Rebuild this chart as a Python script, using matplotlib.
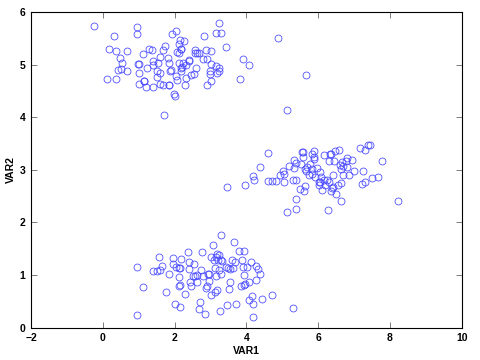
import numpy as np
import matplotlib
matplotlib.use("Agg")
from matplotlib import pyplot as plt

# upper-left group
top_x = [-0.24, 0.17, 0.31, 0.38, 0.48, 0.54, 0.67, 0.41, 0.51, 0.67, 0.11, 0.37,
         0.95, 0.95, 1.11, 0.98, 1.02, 1.01, 1.02, 1.15, 1.16, 1.19, 1.24, 1.30,
         1.36, 1.40, 1.41, 1.40, 1.50, 1.50, 1.54, 1.60, 1.60, 1.60, 1.68, 1.72,
         1.69, 1.82, 1.84, 1.84, 1.86, 1.90, 1.92, 2.05, 2.06, 2.11, 2.15, 2.17,
         2.11, 2.11, 2.05, 2.07, 1.97, 2.02, 2.17, 2.19, 2.22, 2.24, 2.25, 2.28,
         2.31, 2.32, 2.40, 2.41, 2.47, 2.56, 2.56, 2.54, 2.60, 2.63, 2.68, 2.79,
         2.81, 2.87, 2.91, 2.89, 2.98, 2.99, 3.02, 3.02, 3.01, 3.15, 3.16, 3.23,
         3.29, 3.18, 3.23, 3.23, 3.43, 3.91, 4.07, 3.81, 4.88, 5.65, 5.14, 1.70,
         2.18, 1.85]
top_y = [5.74, 5.30, 5.55, 5.26, 5.13, 5.03, 5.25, 4.89, 4.91, 4.88, 4.73, 4.73,
         5.72, 5.58, 5.21, 5.01, 5.01, 4.85, 4.63, 4.68, 4.68, 4.58, 4.94, 5.30,
         5.27, 5.06, 5.00, 4.58, 4.88, 4.77, 5.04, 5.14, 4.84, 4.64, 5.28, 5.36,
         4.61, 5.13, 5.03, 4.61, 4.88, 4.90, 5.58, 5.63, 5.24, 5.39, 5.47, 5.30,
         5.22, 5.03, 4.78, 4.70, 4.44, 4.41, 4.87, 4.94, 4.96, 5.04, 5.45, 4.62,
         4.99, 4.75, 5.06, 5.09, 4.80, 5.28, 5.23, 4.82, 4.93, 5.22, 5.22, 5.11,
         5.54, 5.27, 5.10, 4.61, 4.82, 4.87, 5.25, 5.02, 4.68, 4.98, 5.60, 5.79,
         5.60, 4.85, 4.94, 4.88, 5.34, 5.10, 5.00, 4.73, 5.51, 4.80, 4.13, 4.04,
         5.29, 4.61]

# right group
mid_x = [3.45, 3.96, 4.18, 4.21, 4.37, 4.60, 4.60, 4.70, 4.82, 4.95, 5.02, 5.05,
         5.05, 5.13, 5.19, 5.31, 5.38, 5.32, 5.34, 5.37, 5.37, 5.38, 5.52, 5.55,
         5.59, 5.59, 5.48, 5.60, 5.64, 5.62, 5.67, 5.70, 5.76, 5.74, 5.82, 5.89,
         5.87, 5.84, 5.82, 5.90, 5.89, 5.98, 6.01, 6.03, 6.04, 6.05, 6.08, 6.11,
         6.16, 6.16, 6.20, 6.24, 6.28, 6.29, 6.30, 6.33, 6.36, 6.36, 6.39, 6.40,
         6.42, 6.43, 6.47, 6.49, 6.56, 6.59, 6.60, 6.63, 6.65, 6.64, 6.63, 6.68,
         6.70, 6.77, 6.80, 6.80, 6.86, 6.93, 6.99, 7.17, 7.21, 7.26, 7.30, 7.31,
         7.39, 7.44, 7.50, 7.66, 7.77, 8.21]
mid_y = [2.68, 2.72, 2.89, 2.81, 3.05, 3.32, 2.79, 2.79, 2.78, 2.90, 2.98, 2.93,
         2.76, 2.20, 3.07, 2.81, 2.81, 3.03, 3.19, 3.13, 2.45, 2.26, 3.12, 3.34,
         3.33, 3.24, 2.63, 2.60, 2.69, 3.02, 2.97, 3.06, 3.12, 2.90, 3.30, 3.35,
         3.20, 3.01, 2.93, 2.87, 3.24, 3.04, 2.76, 2.72, 2.77, 2.95, 2.87, 2.62,
         3.28, 2.81, 2.71, 2.81, 2.24, 2.76, 3.17, 3.30, 3.31, 2.59, 2.65, 2.90,
         2.67, 3.16, 3.35, 2.55, 2.71, 3.38, 3.09, 2.75, 3.14, 3.02, 2.41, 3.07,
         2.90, 3.17, 3.22, 3.06, 2.90, 3.19, 2.98, 3.41, 2.73, 2.97, 2.76, 3.38,
         3.47, 3.48, 2.84, 2.87, 3.16, 2.41]

# bottom group
low_x = [0.95, 0.96, 1.12, 1.40, 1.52, 1.57, 1.60, 1.66, 1.75, 1.85, 1.95, 1.96,
         2.05, 2.11, 2.15, 2.12, 2.11, 2.15, 2.19, 2.01, 2.15, 2.28, 2.37, 2.40,
         2.40, 2.42, 2.46, 2.53, 2.52, 2.56, 2.62, 2.62, 2.68, 2.72, 2.75, 2.74,
         2.79, 2.85, 2.89, 2.87, 2.92, 2.97, 2.96, 3.01, 3.02, 3.06, 3.09, 3.12,
         3.13, 3.15, 3.15, 3.18, 3.19, 3.21, 3.23, 3.25, 3.27, 3.28, 3.30, 3.32,
         3.30, 3.42, 3.45, 3.48, 3.52, 3.53, 3.54, 3.61, 3.62, 3.65, 3.69, 3.71,
         3.79, 3.85, 3.89, 3.91, 3.93, 3.94, 3.94, 3.97, 4.01, 4.07, 4.06, 4.13,
         4.16, 4.19, 4.18, 4.26, 4.27, 4.32, 4.37, 4.43, 4.71, 5.29]
low_y = [0.24, 1.16, 0.77, 1.08, 1.08, 1.34, 1.10, 1.18, 0.68, 1.02, 1.32, 1.22,
         1.16, 1.13, 1.13, 0.96, 0.79, 0.81, 1.31, 0.45, 0.40, 0.65, 1.43, 1.25,
         1.12, 0.87, 0.79, 1.22, 0.98, 0.98, 0.87, 1.00, 0.35, 0.49, 1.43, 1.10,
         0.98, 0.26, 0.79, 0.75, 1.02, 1.02, 0.89, 0.63, 1.35, 1.57, 1.29, 0.68,
         1.13, 1.35, 0.98, 1.41, 0.72, 1.29, 1.10, 1.38, 0.32, 1.76, 1.29, 1.27,
         1.02, 1.16, 0.43, 1.13, 0.74, 0.87, 1.11, 1.29, 1.13, 1.63, 1.24, 0.46,
         1.45, 0.79, 1.29, 1.16, 1.00, 1.46, 0.82, 0.84, 1.16, 0.87, 0.53, 1.25,
         0.61, 0.45, 0.21, 0.91, 1.17, 1.11, 1.02, 0.54, 0.62, 0.37]

var1 = top_x + mid_x + low_x
var2 = top_y + mid_y + low_y

plt.rcParams['font.family'] = ['Liberation Sans', 'DejaVu Sans']

fig = plt.figure(figsize=(4.8, 3.6), dpi=100)
ax = fig.add_axes([0.0646, 0.0897, 0.8974, 0.877])

ax.plot(var1, var2, linestyle="none", marker="o", markersize=5,
        markerfacecolor="none", markeredgecolor="#4444ff", markeredgewidth=0.55)

ax.set_xlim(-2, 10)
ax.set_ylim(0, 6)
ax.set_xticks(np.arange(-2, 11, 2))
ax.set_yticks(np.arange(0, 7, 1))
ax.tick_params(direction="in", length=4, width=0.6, top=True, right=True,
               labelsize=7.5, pad=4, color="#666666")
for lab in ax.get_xticklabels() + ax.get_yticklabels():
    lab.set_fontweight("bold")
for s in ax.spines.values():
    s.set_linewidth(0.8)

ax.set_xlabel("VAR1", fontsize=7.5, fontweight="bold", labelpad=2)
ax.set_ylabel("VAR2", fontsize=7.5, fontweight="bold", labelpad=3)

fig.savefig("out.png", dpi=100)
